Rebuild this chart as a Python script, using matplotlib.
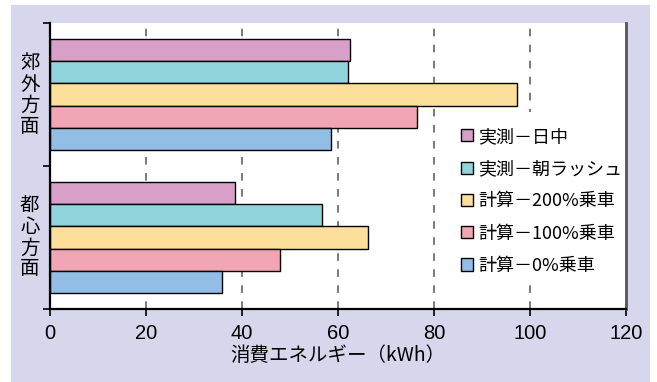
import matplotlib
matplotlib.use("Agg")
import matplotlib.pyplot as plt
from matplotlib.patches import Patch, Rectangle
import numpy as np

plt.rcParams['font.family'] = ['Noto Sans CJK JP', 'DejaVu Sans']

# Data
groups = ["郊\n外\n方\n面", "都\n心\n方\n面"]
series = ["実測－日中", "実測－朝ラッシュ", "計算－200%乗車", "計算－100%乗車", "計算－0%乗車"]
suburb = [62.5, 62.1, 97.2, 76.5, 58.5]
center = [38.5, 56.6, 66.3, 47.9, 35.9]
colors = ["#D8A0C8", "#92D4DC", "#FCDF9A", "#F2A6B3", "#92BEE6"]
xticks = [0, 20, 40, 60, 80, 100, 120]
xlabel = "消費エネルギー（kWh）"

W, H = 657, 382
fig = plt.figure(figsize=(W / 100, H / 100), dpi=100, facecolor="white")

# lavender panel behind the chart
fig.add_artist(Rectangle((11 / W, 0), (650 - 11) / W, (382 - 5) / H,
                         transform=fig.transFigure, facecolor="#D6D6EC",
                         edgecolor="none", zorder=-10))

ax = fig.add_axes([50 / W, (H - 309) / H, 576 / W, 286 / H])
ax.set_zorder(1)
ax.set_facecolor("white")

bar_h = 0.154
group_pos = [1, 0]
values = [suburb, center]
for gp, vals in zip(group_pos, values):
    for i, (v, c) in enumerate(zip(vals, colors)):
        ax.barh(gp + (2 - i) * bar_h, v, height=bar_h, color=c,
                edgecolor="black", linewidth=1.0, zorder=3)

ax.set_xlim(0, 120)
ax.set_ylim(-0.5, 1.5)

# dashed grid
for xv in xticks[1:-1]:
    ax.axvline(xv, color="#555555", linestyle=(0, (5, 5.5)), linewidth=1.1, zorder=1)

ax.set_xticks(xticks)
ax.set_xticklabels([str(t) for t in xticks], fontsize=14.5, family="Liberation Sans")
ax.tick_params(axis="x", direction="out", length=5, width=1.2, pad=6, color="black")
ax.set_yticks([-0.5, 0.5, 1.5])
ax.set_yticklabels([])
ax.tick_params(axis="y", direction="out", length=5, width=1.2, color="black")

for gp, lbl in zip(group_pos, groups):
    ax.text(-0.035, gp, lbl, transform=ax.get_yaxis_transform(), ha="center",
            va="center", fontsize=14, linespacing=1.0)

ax.set_xlabel(xlabel, fontsize=14, labelpad=1)

ax.spines["top"].set_visible(False)
ax.spines["left"].set_linewidth(1.6)
ax.spines["bottom"].set_linewidth(1.6)
ax.spines["right"].set_color("#555555")
ax.spines["right"].set_linewidth(2.0)
for s in ax.spines.values():
    s.set_zorder(6)

# white backing behind the legend
ax.add_patch(Rectangle(((455 - 50) / 576, (309 - 283) / 286),
                       (624 - 455) / 576, (283 - 112) / 286,
                       transform=ax.transAxes, facecolor="white",
                       edgecolor="none", zorder=4))

handles = [Patch(facecolor=c, edgecolor="black", linewidth=1.0) for c in colors]
leg = ax.legend(handles, series, loc="upper left",
                bbox_to_anchor=((459 - 50) / 576, (309 - 126) / 286), fontsize=13,
                frameon=False,
                handlelength=0.65, handleheight=0.65, handletextpad=0.3,
                labelspacing=0.79, borderpad=0.1, borderaxespad=0)
leg.set_zorder(5)

fig.savefig("out.png", dpi=100, facecolor=fig.get_facecolor())
